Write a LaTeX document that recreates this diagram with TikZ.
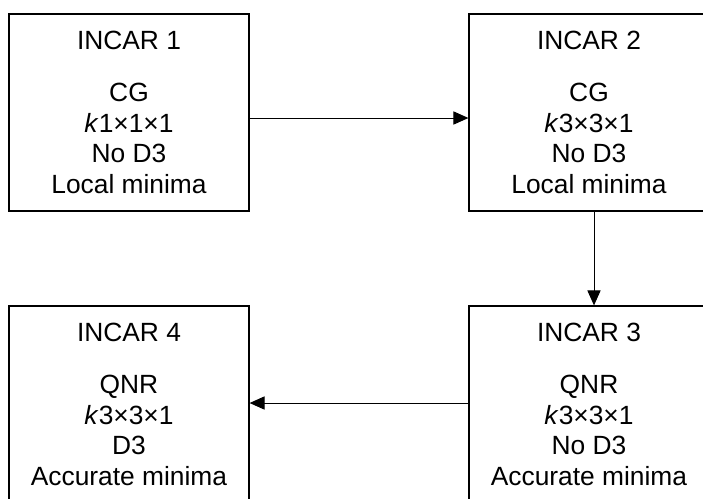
\documentclass[tikz,border=0pt]{standalone}
\usepackage{fontspec}
\setmainfont{Liberation Sans}
\usetikzlibrary{arrows.meta}

\begin{document}
\begin{tikzpicture}[
  x=0.02cm,
  y=-0.02cm,
  every node/.style={font=\fontsize{15pt}{17.6pt}\selectfont, black},
  incarbox/.style={draw, line width=0.75pt, minimum width=4.8cm,
    minimum height=3.94cm, align=center, inner sep=0pt},
  flow/.style={line width=0.55pt, -{Triangle[length=8.5pt, width=7.5pt]}}
]

  % ---- page, cut at the right and bottom edges as in the original -------
  \useasboundingbox (0,0) rectangle (703,498);
  \clip (0,0) rectangle (703,498);

  % ---- the four INCAR steps ---------------------------------------------
  \node[incarbox] (incarA) at (129,112.5)
    {INCAR 1\\[11.9pt] CG\\ \textit{k}1×1×1\\ No D3\\ Local minima};
  \node[incarbox] (incarB) at (589,112.5)
    {INCAR 2\\[11.9pt] CG\\ \textit{k}3×3×1\\ No D3\\ Local minima};
  \node[incarbox] (incarC) at (589,404.5)
    {INCAR 3\\[11.9pt] QNR\\ \textit{k}3×3×1\\ No D3\\ Accurate minima};
  \node[incarbox] (incarD) at (129,404.5)
    {INCAR 4\\[11.9pt] QNR\\ \textit{k}3×3×1\\ D3\\ Accurate minima};

  % ---- connectors, a little off the box centres -------------------------
  \draw[flow] ([yshift=-0.11cm]incarA.east) -- ([yshift=-0.11cm]incarB.west);
  \draw[flow] ([xshift=0.1cm]incarB.south) -- ([xshift=0.1cm]incarC.north);
  \draw[flow] ([yshift=0.03cm]incarC.west) -- ([yshift=0.03cm]incarD.east);

\end{tikzpicture}
\end{document}
